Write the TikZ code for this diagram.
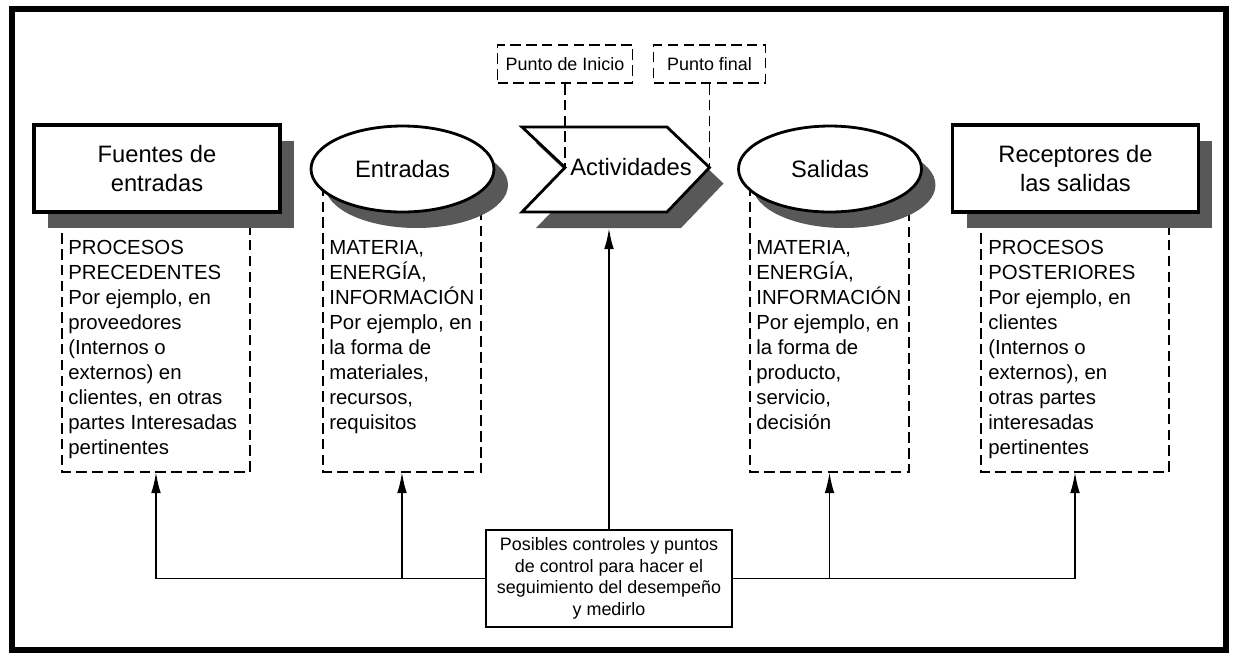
\documentclass[tikz,border=0pt]{standalone}
\usepackage{fontspec}
\setmainfont{Liberation Sans}
\usetikzlibrary{arrows.meta,shapes.geometric,shadows}
\definecolor{shadowgray}{RGB}{88,88,88}

\begin{document}
\begin{tikzpicture}
		[
			x=0.02cm, y=-0.02cm,
			title/.style={font=\fontsize{13.5}{16}\selectfont},
			shade/.style={drop shadow={shadow xshift=0.28cm, shadow yshift=-0.32cm, fill=shadowgray, opacity=1}},
			box/.style={title, shade, draw, line width=1.8pt, fill=white, rectangle, align=center, inner sep=0pt, minimum width=4.92cm, minimum height=1.74cm},
			oval/.style={title, shade, draw, line width=1.6pt, fill=white, ellipse, inner sep=0pt, minimum width=3.66cm, minimum height=1.72cm},
			chev/.style={draw, line width=1.6pt, fill=white},
			chevshade/.style={fill=shadowgray},
			info/.style={anchor=north west, align=left, inner sep=0pt, font=\fontsize{11.6}{14.2}\selectfont},
			dashbox/.style={line width=1.1pt, dash pattern=on 6pt off 3pt},
			note/.style={dashbox, draw, inner sep=0pt, minimum height=0.76cm, font=\fontsize{10.2}{12.3}\selectfont},
			arrow/.style={-{Latex[length=12pt,width=5.5pt]}, line width=1.1pt}
		]

		\useasboundingbox (0,0) rectangle (1238,654);

		% frame
		\draw[line width=3.4pt] (12,9) rectangle (1226,650);

		% dashed information boxes
		\foreach \nm/\l/\r in {fu/62/250, en/323/481, sa/750/909, re/981/1169}
		{
			\draw[dashbox] (\l,170) -- (\l,472) -- (\r,472) -- (\r,170);
			\coordinate (\nm-b) at ({(\l+\r)/2},472);
		}

		% main shapes
		\node[box]	(fuentes)		at ( 157.0, 168.5 ) {Fuentes de\\entradas};
		\node[oval]	(entradas)		at ( 402.5, 169.0 ) {Entradas};
		\node[oval]	(salidas)		at ( 830.0, 169.0 ) {Salidas};
		\node[box]	(receptores)	at (1075.5, 168.5 ) {Receptores de\\las salidas};

		\foreach \dx/\dy/\st in {14/16/chevshade, 0/0/chev}
			\path[\st, shift={(\dx,\dy)}] (522,127) -- (667,127) -- (709.5,167.5)
				-- (667,212) -- (522,212) -- (565,167.5) -- cycle;
		\node[title]	(act)		at ( 631.0, 167.5 ) {Actividades};
		\coordinate (notch)		at ( 565.0, 167.5 );
		\coordinate (tip)		at ( 709.5, 167.5 );
		\coordinate (actbase)	at ( 609.0, 228.0 );

		% start and end points
		\node[note, minimum width=2.7cm]	(inicio)	at ( 565.0, 64.0 ) {Punto de Inicio};
		\node[note, minimum width=2.24cm]	(final)		at ( 709.5, 64.0 ) {Punto final};
		\draw[dashbox] (inicio.south) -- (notch);
		\draw[dashbox] (final.south) -- (tip);

		% texts
		\node[info] (fu-t) at (  68, 240 ) {PROCESOS\\PRECEDENTES\\Por ejemplo, en\\proveedores\\(Internos o\\externos) en\\clientes, en otras\\partes Interesadas\\pertinentes};
		\node[info] (en-t) at ( 329, 240 ) {MATERIA,\\ENERGÍA,\\INFORMACIÓN\\Por ejemplo, en\\la forma de\\materiales,\\recursos,\\requisitos};
		\node[info] (sa-t) at ( 756, 240 ) {MATERIA,\\ENERGÍA,\\INFORMACIÓN\\Por ejemplo, en\\la forma de\\producto,\\servicio,\\decisión};
		\node[info] (re-t) at ( 988, 240 ) {PROCESOS\\POSTERIORES\\Por ejemplo, en\\clientes\\(Internos o\\externos), en\\otras partes\\interesadas\\pertinentes};

		% controls
		\node[draw, fill=white, line width=1.5pt, align=center, inner sep=0pt,
			minimum width=4.92cm, minimum height=1.94cm,
			font=\fontsize{10.2}{12.3}\selectfont]
			(ctrl) at ( 609, 578.5 ) {Posibles controles y puntos\\de control para hacer el\\seguimiento del desempeño\\y medirlo};

		\draw[arrow] (ctrl.west) -| (fu-b);
		\draw[arrow] (ctrl.east) -| (re-b);
		\draw[arrow] (ctrl.west -| en-b) -- (en-b);
		\draw[arrow] (ctrl.east -| sa-b) -- (sa-b);
		\draw[arrow] (ctrl.north) -- (actbase);

	\end{tikzpicture}
\end{document}
